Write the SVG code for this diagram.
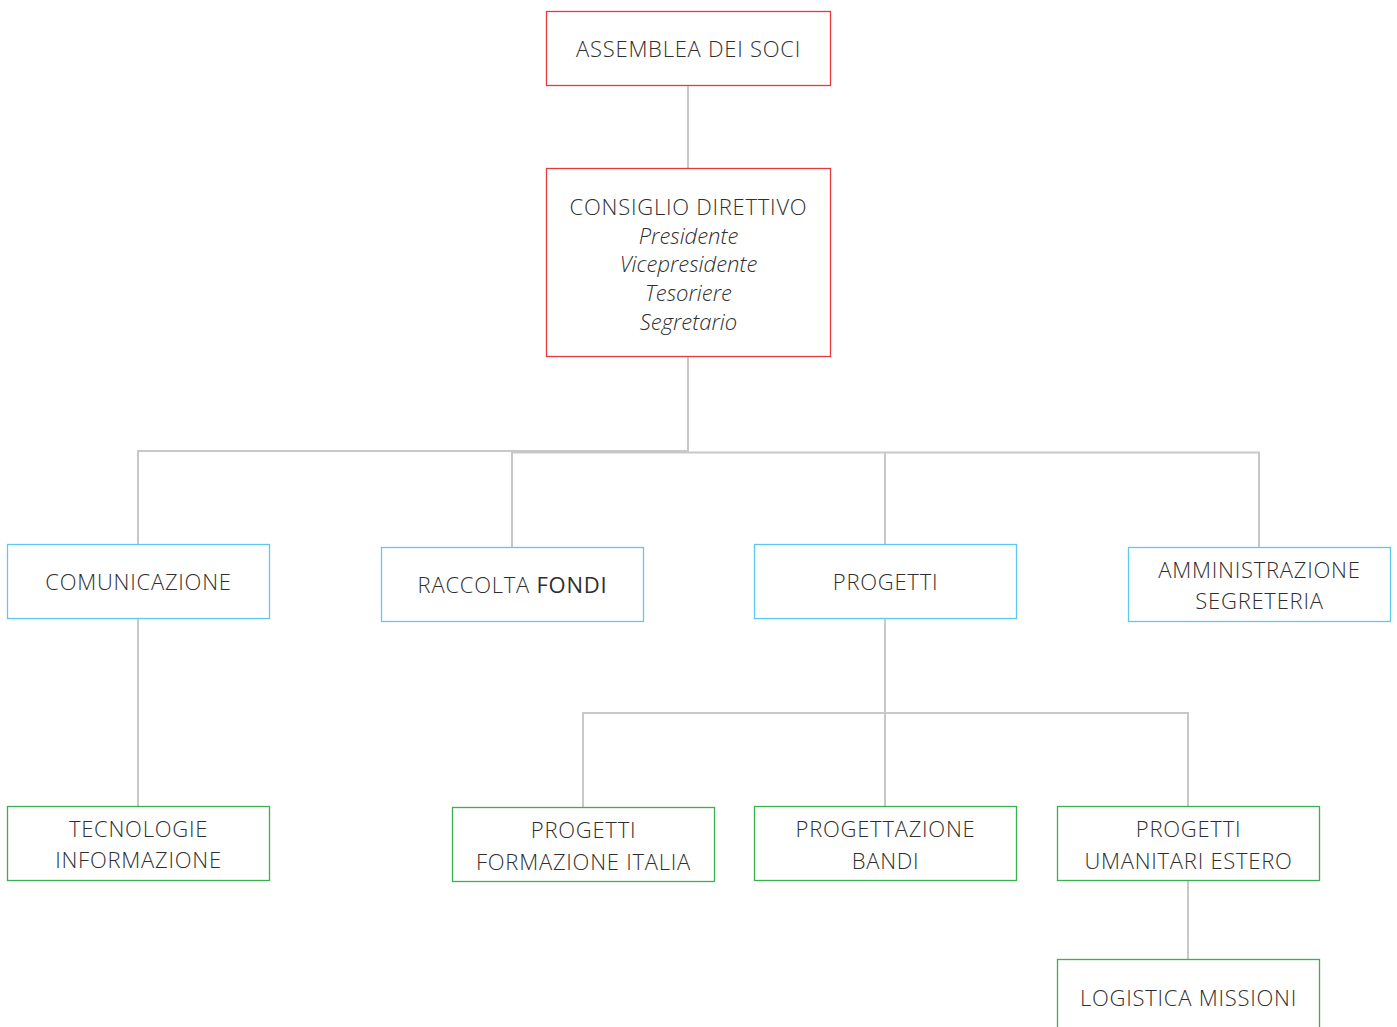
<svg xmlns="http://www.w3.org/2000/svg" width="1397" height="1027" viewBox="0 0 1397 1027">
<style>
.n{fill:#fff;stroke-width:1.3}
.r{stroke:#e8393e}
.b{stroke:#5ccaf0}
.g{stroke:#37b24d}
text{font-family:"Open Sans","Liberation Sans",sans-serif;font-weight:350;font-size:22px;fill:#2e2e2e;text-anchor:middle;letter-spacing:0.75px}
.i{font-style:italic;font-size:22px;letter-spacing:0}
.c line{stroke:#c8c8c8;stroke-width:2}
</style>
<rect width="1397" height="1027" fill="#fff"/>
<g class="c">
<line x1="688" y1="85" x2="688" y2="168"/>
<line x1="688" y1="357" x2="688" y2="451"/>
<line x1="137" y1="451" x2="689" y2="451"/>
<line x1="512" y1="452.5" x2="1260" y2="452.5"/>
<line x1="138" y1="450" x2="138" y2="544"/>
<line x1="512" y1="452" x2="512" y2="547"/>
<line x1="885" y1="452" x2="885" y2="544"/>
<line x1="1259" y1="452" x2="1259" y2="547"/>
<line x1="138" y1="618" x2="138" y2="806"/>
<line x1="885" y1="618" x2="885" y2="806"/>
<line x1="582" y1="713" x2="1189" y2="713"/>
<line x1="583" y1="712" x2="583" y2="807"/>
<line x1="1188" y1="712" x2="1188" y2="806"/>
<line x1="1188" y1="881" x2="1188" y2="959"/>
</g>
<g id="assemblea"><rect class="n r" x="546.5" y="11.5" width="284" height="74"/><text x="688.5" y="57">ASSEMBLEA DEI SOCI</text></g>
<g id="consiglio"><rect class="n r" x="546.5" y="168.5" width="284" height="188"/>
<text x="688.5" y="215">CONSIGLIO DIRETTIVO</text>
<text class="i" x="688.5" y="244">Presidente</text>
<text class="i" x="688.5" y="272">Vicepresidente</text>
<text class="i" x="688.5" y="301">Tesoriere</text>
<text class="i" x="688.5" y="330">Segretario</text></g>
<g id="comunicazione"><rect class="n b" x="7.5" y="544.5" width="262" height="74"/><text x="138.5" y="590">COMUNICAZIONE</text></g>
<g id="raccolta"><rect class="n b" x="381.5" y="547.5" width="262" height="74"/><text x="512.5" y="593">RACCOLTA <tspan style="font-weight:450">FONDI</tspan></text></g>
<g id="progetti"><rect class="n b" x="754.5" y="544.5" width="262" height="74"/><text x="885.5" y="590">PROGETTI</text></g>
<g id="amministrazione"><rect class="n b" x="1128.5" y="547.5" width="262" height="74"/><text x="1259.5" y="578">AMMINISTRAZIONE</text><text x="1259.5" y="609">SEGRETERIA</text></g>
<g id="tecnologie"><rect class="n g" x="7.5" y="806.5" width="262" height="74"/><text x="138.5" y="837">TECNOLOGIE</text><text x="138.5" y="868">INFORMAZIONE</text></g>
<g id="formazione"><rect class="n g" x="452.5" y="807.5" width="262" height="74"/><text x="583.5" y="838">PROGETTI</text><text x="583.5" y="870">FORMAZIONE ITALIA</text></g>
<g id="bandi"><rect class="n g" x="754.5" y="806.5" width="262" height="74"/><text x="885.5" y="837">PROGETTAZIONE</text><text x="885.5" y="869">BANDI</text></g>
<g id="umanitari"><rect class="n g" x="1057.5" y="806.5" width="262" height="74"/><text x="1188.5" y="837">PROGETTI</text><text x="1188.5" y="869">UMANITARI ESTERO</text></g>
<g id="logistica"><rect class="n g" x="1057.5" y="959.5" width="262" height="80"/><text x="1188.5" y="1006">LOGISTICA MISSIONI</text></g>
</svg>
